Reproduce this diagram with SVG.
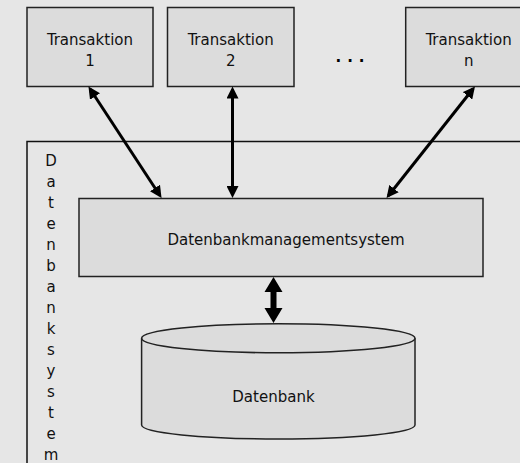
<svg xmlns="http://www.w3.org/2000/svg" width="520" height="463" viewBox="0 0 520 463">
<defs>
<style>
.bg{fill:#e6e6e6}
.box{fill:#dcdcdc;stroke:#222;stroke-width:1.5}
.frame{fill:none;stroke:#111;stroke-width:1.5}
.t{font-family:'DejaVu Sans Condensed','DejaVu Sans',sans-serif;font-size:16.7px;fill:#111;text-anchor:middle}
.arr{stroke:#000;stroke-width:3;fill:none;marker-start:url(#h);marker-end:url(#h)}
</style>
<marker id="h" markerUnits="userSpaceOnUse" markerWidth="13" markerHeight="12" refX="9" refY="6" orient="auto-start-reverse" viewBox="0 0 13 12">
<path d="M0,0 L12,6 L0,12 z" fill="#000"/>
</marker>
</defs>
<rect class="bg" x="0" y="0" width="520" height="463"/>
<g id="datenbanksystem">
<rect class="frame" x="27" y="141.5" width="520" height="340"/>
<text class="t"><tspan x="51" y="166">D</tspan><tspan x="51" dy="21">a</tspan><tspan x="51" dy="21">t</tspan><tspan x="51" dy="21">e</tspan><tspan x="51" dy="21">n</tspan><tspan x="51" dy="21">b</tspan><tspan x="51" dy="21">a</tspan><tspan x="51" dy="21">n</tspan><tspan x="51" dy="21">k</tspan><tspan x="51" dy="21">s</tspan><tspan x="51" dy="21">y</tspan><tspan x="51" dy="21">s</tspan><tspan x="51" dy="21">t</tspan><tspan x="51" dy="21">e</tspan><tspan x="51" dy="21">m</tspan></text>
</g>
<g id="t1">
<rect class="box" x="27" y="7.5" width="126" height="79"/>
<text class="t" x="90" y="44.5">Transaktion</text>
<text class="t" x="90" y="65.5">1</text>
</g>
<g id="t2">
<rect class="box" x="167.5" y="7.5" width="126.5" height="79"/>
<text class="t" x="230.7" y="44.5">Transaktion</text>
<text class="t" x="230.7" y="65.5">2</text>
</g>
<g id="dots">
<text class="t" x="353" y="62" style="font-weight:bold;fill:#000" letter-spacing="6">...</text>
</g>
<g id="tn">
<rect class="box" x="405.7" y="7.5" width="126" height="79"/>
<text class="t" x="468.7" y="44.5">Transaktion</text>
<text class="t" x="468.7" y="65.5">n</text>
</g>
<g id="dbms">
<rect class="box" x="79" y="198.5" width="404" height="78"/>
<text class="t" x="286" y="245">Datenbankmanagementsystem</text>
</g>
<g id="datenbank">
<path class="box" d="M141.6,338.3 L141.6,425 A136.7,14 0 0 0 415,425 L415,338.3 A136.7,14.5 0 0 0 141.6,338.3 Z"/>
<path class="box" style="fill:none" d="M141.6,338.3 A136.7,14.5 0 0 0 415,338.3"/>
<text class="t" x="273.5" y="401.5">Datenbank</text>
</g>
<g id="connectors">
<line class="arr" x1="90.1" y1="89" x2="159.9" y2="195.5"/>
<line class="arr" x1="232.5" y1="89.5" x2="232.5" y2="195"/>
<line class="arr" x1="473.1" y1="88.8" x2="388.4" y2="195.7"/>
<polygon fill="#000" points="273.5,277 282.5,292 276.5,292 276.5,308 282.5,308 273.5,323 264.5,308 270.5,308 270.5,292 264.5,292"/>
</g>
</svg>
